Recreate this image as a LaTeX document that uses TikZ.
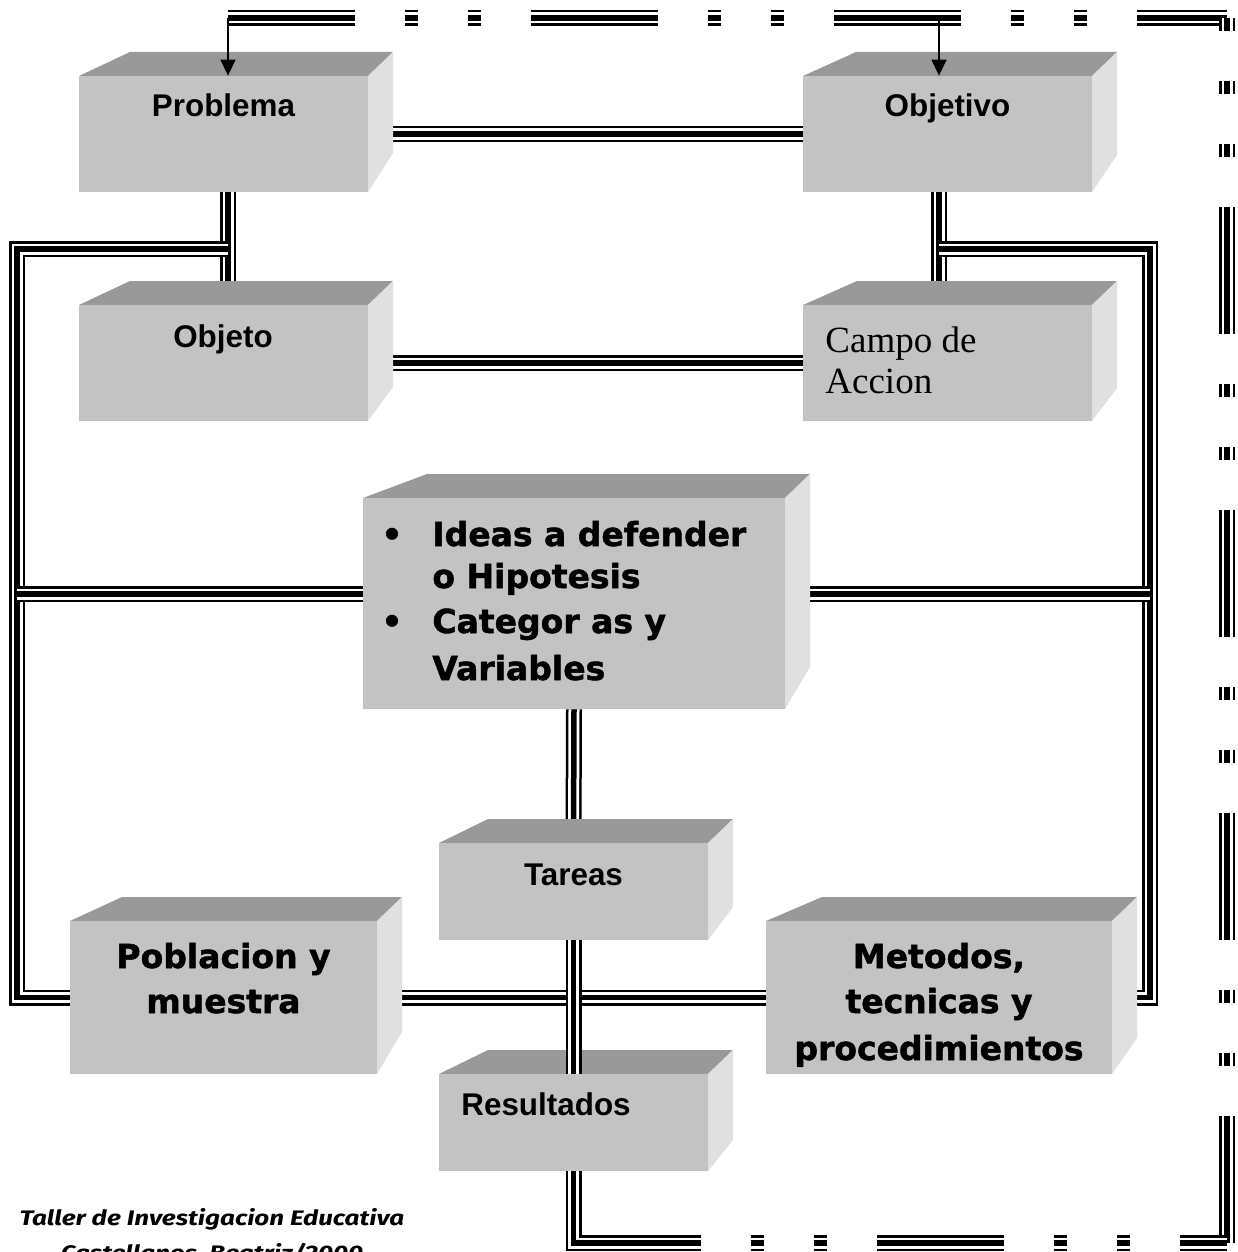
\documentclass[tikz,border=0pt]{standalone}
\usepackage{fontspec}
\usetikzlibrary{fit,arrows.meta}
\newfontfamily\arialf{Liberation Sans}
\newfontfamily\tahf{DejaVu Sans}[FakeBold=1.5]
\newfontfamily\timesf{Liberation Serif}
\newfontfamily\capf{Fira Sans}[FakeStretch=1.24]
\definecolor{frontgray}{RGB}{195,195,195}
\definecolor{topgray}{RGB}{153,153,153}
\definecolor{sidegray}{RGB}{224,224,224}
\pgfdeclarelayer{back}\pgfdeclarelayer{bg}\pgfsetlayers{back,bg,main}
\tikzset{
 tri/.style={line width=8pt, draw=black, line join=miter,
   postaction={draw=white, line width=5.5pt},
   postaction={draw=black, line width=2.75pt}},
 dpat/.style={dash pattern=on 63.5pt off 25pt on 6.5pt off 25pt on 6.5pt off 25pt},
 tridash/.style={line width=8pt, draw=black, dpat,
   postaction={draw=white, line width=5.5pt, dpat},
   postaction={draw=black, line width=2.75pt, dpat}},
 frontface/.style={fill=frontgray, inner sep=0pt, draw=none},
 topface/.style={fill=topgray},
 sideface/.style={fill=sidegray},
 arr/.style={line width=0.75pt, -{Triangle[width=7.5pt,length=8pt]}},
 lblA/.style={font=\arialf\bfseries\fontsize{15.7pt}{18pt}\selectfont, inner sep=0pt, anchor=base},
 lblB/.style={font=\tahf\bfseries\fontsize{16.5pt}{20pt}\selectfont, inner sep=0pt, anchor=base},
 lblT/.style={font=\timesf\fontsize{18.5pt}{22pt}\selectfont, inner sep=0pt, anchor=base west},
 capt/.style={font=\capf\bfseries\itshape\fontsize{10.5pt}{12pt}\selectfont, inner sep=0pt, anchor=base},
}
% name x0 y0 x1 y1 leftoffset rise
\newcommand\cubebox[7]{%
  \fill[topface] (#2,#3) -- ({#2+#6},{#3-24}) -- ({#4+25},{#3-24}) -- (#4,#3) -- cycle;
  \fill[sideface] (#4,#3) -- ({#4+25},{#3-24}) -- ({#4+25},{#5-#7}) -- (#4,#5) -- cycle;
  \coordinate (#1-nw) at (#2,#3);
  \coordinate (#1-se) at (#4,#5);
  \node[frontface, fit=(#1-nw)(#1-se)] (#1) {};
}
\begin{document}
\begin{tikzpicture}[x=0.5pt,y=-0.5pt]
\useasboundingbox (0,0) rectangle (1237,1252);
\clip (0,0) rectangle (1237,1252);
\begin{pgfonlayer}{back}
\fill[white] (0,0) rectangle (1237,1252);
\end{pgfonlayer}

% boxes
\cubebox{Problema}{79}{76}{368}{192}{51}{39}
\cubebox{Objetivo}{803}{76}{1092}{192}{53}{37}
\cubebox{Objeto}{79}{305}{368}{421}{51}{34}
\cubebox{Campo}{803}{305}{1092}{421}{54}{33}
\cubebox{Central}{363}{498}{785}{709}{64}{42}
\cubebox{Tareas}{439}{843}{708}{940}{49}{33}
\cubebox{Resultados}{439}{1074}{708}{1171}{49}{31}
\cubebox{Poblacion}{70}{921}{377}{1074}{52}{42}
\cubebox{Metodos}{766}{921}{1112}{1074}{56}{36}

% coordinates
\coordinate (cTL) at (228,18);
\coordinate (cTR) at (1227,18);
\coordinate (cBR) at (1227,1243);
\coordinate (cBL) at (573.5,1243);
\coordinate (aO) at (939,18);
\coordinate (jL) at (228,249);
\coordinate (cL) at (17,249);
\coordinate (jR) at (939,249);
\coordinate (cR) at (1150,249);
\coordinate (hL) at (17,594);
\coordinate (hR) at (1150,594);

\begin{pgfonlayer}{bg}
% dashed outer loop
\draw[tridash] (cTL) -- (cTR);
\draw[tridash] (cBR) -- (cTR);
\draw[tridash] (cBL) -- (cBR);
% connectors
\draw[tri] (Problema.east) -- (Objetivo.west);
\draw[tri] (Problema.south -| jL) -- (Objeto.north -| jL);
\draw[tri] (Objetivo.south -| jR) -- (Campo.north -| jR);
\draw[tri] (Objeto.east) -- (Campo.west);
\draw[tri] (jL) -- (cL) |- (Poblacion.west);
\draw[tri] (jR) -- (cR) |- (Metodos.east);
\draw[tri] (hL) -- (Central.west |- hL);
\draw[tri] (Central.east |- hR) -- (hR);
\draw[tri] (Central.south) -- (Tareas.north);
\draw[tri] (Poblacion.east) -- (Metodos.west);
\draw[tri] (Resultados.south) -- (cBL) -- ([xshift=63.5pt]cBL);
\end{pgfonlayer}

\draw[tri] (Tareas.south) -- (Resultados.north);

% arrows
\draw[arr] (cTL) -- (cTL |- Problema.north);
\draw[arr] (aO) -- (aO |- Objetivo.north);

% texts
\node[lblA] (tProblema) at (223.5,117) {Problema};
\node[lblA] (tObjetivo) at (947.5,117) {Objetivo};
\node[lblA] (tObjeto) at (223,347) {Objeto};
\node[lblT] (tCampo1) at (825,352) {Campo de};
\node[lblT] (tCampo2) at (825,393) {Accion};
\node[lblB] (bul1) at (392,546) {•};
\node[lblB] (bul2) at (392,633) {•};
\node[lblB, anchor=base west] (tC1) at (432,546) {Ideas a defender};
\node[lblB, anchor=base west] (tC2) at (432,588) {o Hipotesis};
\node[lblB, anchor=base west] (tC3) at (432,633) {Categor as y};
\node[lblB, anchor=base west] (tC4) at (432,680) {Variables};
\node[lblA] (tTareas) at (573.5,885) {Tareas};
\node[lblA, anchor=base west] (tResultados) at (461,1115) {Resultados};
\node[lblB] (tPob1) at (223.5,968) {Poblacion y};
\node[lblB] (tPob2) at (223.5,1013) {muestra};
\node[lblB] (tMet1) at (939,968) {Metodos,};
\node[lblB] (tMet2) at (939,1013) {tecnicas y};
\node[lblB] (tMet3) at (939,1060) {procedimientos};
\node[capt] (cap1) at (212,1225) {Taller de Investigacion Educativa};
\node[capt] (cap2) at (212,1260) {Castellanos, Beatriz/2000};
\end{tikzpicture}
\end{document}
